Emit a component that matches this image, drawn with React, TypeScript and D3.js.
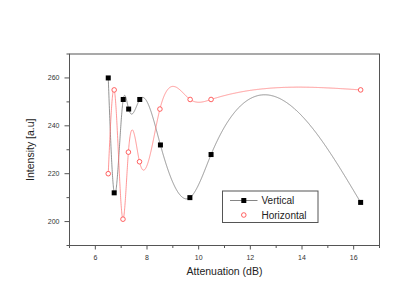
import { useEffect, useRef } from 'react'
import * as d3 from 'd3'

const attenuation = [6.5, 6.73, 7.08, 7.29, 7.72, 8.52, 9.66, 10.48, 16.27]
const verticalValues = [260, 212, 251, 247, 251, 232, 210, 228, 208]
const horizontalX = [6.5, 6.73, 7.07, 7.28, 7.71, 8.5, 9.67, 10.48, 16.27]
const horizontalValues = [220, 255, 201, 229, 225, 247, 251, 251, 255]
const xTicks = [6, 8, 10, 12, 14, 16]
const yTicks = [200, 220, 240, 260]

// natural cubic spline y(x), used only to draw the connecting line
function naturalSpline(xs: number[], ys: number[]) {
  const n = xs.length
  const h = d3.range(n - 1).map(i => xs[i + 1] - xs[i])
  const a = new Array(n).fill(0), b = new Array(n).fill(1), c = new Array(n).fill(0), r = new Array(n).fill(0)
  for (let i = 1; i < n - 1; i++) {
    a[i] = h[i - 1]
    b[i] = 2 * (h[i - 1] + h[i])
    c[i] = h[i]
    r[i] = 6 * ((ys[i + 1] - ys[i]) / h[i] - (ys[i] - ys[i - 1]) / h[i - 1])
  }
  // thomas algorithm
  const cp = new Array(n).fill(0), rp = new Array(n).fill(0)
  cp[0] = c[0] / b[0]; rp[0] = r[0] / b[0]
  for (let i = 1; i < n; i++) {
    const m = b[i] - a[i] * cp[i - 1]
    cp[i] = c[i] / m
    rp[i] = (r[i] - a[i] * rp[i - 1]) / m
  }
  const M = new Array(n).fill(0)
  M[n - 1] = rp[n - 1]
  for (let i = n - 2; i >= 0; i--) M[i] = rp[i] - cp[i] * M[i + 1]
  return (x: number) => {
    let i = d3.bisectRight(xs, x) - 1
    i = Math.max(0, Math.min(n - 2, i))
    const t1 = xs[i + 1] - x, t0 = x - xs[i], hi = h[i]
    return M[i] * t1 ** 3 / (6 * hi) + M[i + 1] * t0 ** 3 / (6 * hi)
      + (ys[i] / hi - M[i] * hi / 6) * t1 + (ys[i + 1] / hi - M[i + 1] * hi / 6) * t0
  }
}

export default function App() {
  const svgRef = useRef<SVGSVGElement>(null)

  useEffect(() => {
    if (!svgRef.current) return
    const width = 415, height = 294
    const margin = { top: 54, right: 35.5, bottom: 48.5, left: 69.5 }
    const svg = d3.select(svgRef.current)
    svg.selectAll('*').remove()

    const x = d3.scaleLinear().domain([5, 17]).range([margin.left, width - margin.right])
    const y = d3.scaleLinear().domain([190, 270]).range([height - margin.bottom, margin.top])
    const axisColor = '#555'
    const font = 'Liberation Sans, Arial, sans-serif'

    svg.append('clipPath').attr('id', 'plot-clip')
      .append('rect')
      .attr('x', margin.left).attr('y', margin.top)
      .attr('width', x(17) - x(5)).attr('height', y(190) - y(270))

    // frame
    svg.append('rect')
      .attr('x', x(5)).attr('y', y(270))
      .attr('width', x(17) - x(5)).attr('height', y(190) - y(270))
      .attr('fill', 'none').attr('stroke', axisColor).attr('stroke-width', 1)

    // x axis
    const xAxis = svg.append('g').attr('transform', `translate(0,${y(190)})`)
    d3.range(5, 17.01, 1).forEach(v => {
      const major = v % 2 === 0
      xAxis.append('line')
        .attr('x1', x(v)).attr('x2', x(v)).attr('y1', 0).attr('y2', major ? 4 : 2.5)
        .attr('stroke', axisColor).attr('stroke-width', 1)
    })
    xTicks.forEach(v => {
      xAxis.append('text')
        .attr('x', x(v)).attr('y', 14)
        .attr('text-anchor', 'middle').attr('font-size', 7).attr('font-family', font).attr('fill', '#333')
        .text(v)
    })

    // y axis
    const yAxis = svg.append('g').attr('transform', `translate(${x(5)},0)`)
    d3.range(190, 270.01, 10).forEach(v => {
      const major = v % 20 === 0 && v !== 190 && v !== 270
      yAxis.append('line')
        .attr('x1', major ? -5 : -3).attr('x2', 0).attr('y1', y(v)).attr('y2', y(v))
        .attr('stroke', axisColor).attr('stroke-width', 1)
    })
    yTicks.forEach(v => {
      yAxis.append('text')
        .attr('x', -10).attr('y', y(v) + 2.5)
        .attr('text-anchor', 'end').attr('font-size', 7).attr('font-family', font).attr('fill', '#333')
        .text(v)
    })

    svg.append('text')
      .attr('x', (x(5) + x(17)) / 2).attr('y', 275)
      .attr('text-anchor', 'middle').attr('font-size', 10.5).attr('font-family', font).attr('fill', '#222')
      .text('Attenuation (dB)')
    svg.append('text')
      .attr('transform', `translate(34,${(y(190) + y(270)) / 2}) rotate(-90)`)
      .attr('text-anchor', 'middle').attr('font-size', 10.5).attr('font-family', font).attr('fill', '#222')
      .text('Intensity [a.u]')

    // spline lines
    const plot = svg.append('g').attr('clip-path', 'url(#plot-clip)')
    const line = d3.line<[number, number]>().x(d => x(d[0])).y(d => y(d[1]))
    const drawSpline = (xs: number[], ys: number[], color: string) => {
      const f = naturalSpline(xs, ys)
      const pts = d3.range(xs[0], xs[xs.length - 1], 0.005).concat([xs[xs.length - 1]])
        .map(v => [v, f(v)] as [number, number])
      plot.append('path').attr('d', line(pts)).attr('fill', 'none')
        .attr('stroke', color).attr('stroke-width', 0.7)
    }
    drawSpline(attenuation, verticalValues, '#666')
    drawSpline(horizontalX, horizontalValues, '#ff6a6a')

    // markers
    attenuation.forEach((v, i) => {
      svg.append('rect')
        .attr('x', x(v) - 2.5).attr('y', y(verticalValues[i]) - 2.5)
        .attr('width', 5).attr('height', 5).attr('fill', '#000')
    })
    horizontalX.forEach((v, i) => {
      svg.append('circle')
        .attr('cx', x(v)).attr('cy', y(horizontalValues[i])).attr('r', 2.3)
        .attr('fill', '#fff').attr('stroke', '#ff3b3b').attr('stroke-width', 0.8)
    })

    // legend
    const lg = svg.append('g').attr('transform', 'translate(222.5,191)')
    lg.append('rect').attr('width', 95.5).attr('height', 31.5)
      .attr('fill', '#fff').attr('stroke', axisColor).attr('stroke-width', 1)
    lg.append('line').attr('x1', 7.5).attr('x2', 35).attr('y1', 9.5).attr('y2', 9.5)
      .attr('stroke', '#666').attr('stroke-width', 0.8)
    lg.append('rect').attr('x', 18.8).attr('y', 7).attr('width', 5).attr('height', 5).attr('fill', '#000')
    lg.append('circle').attr('cx', 21.3).attr('cy', 24).attr('r', 2.3)
      .attr('fill', '#fff').attr('stroke', '#ff3b3b').attr('stroke-width', 0.8)
    lg.append('text').attr('x', 39).attr('y', 13).attr('font-size', 10).attr('font-family', font)
      .attr('fill', '#222').text('Vertical')
    lg.append('text').attr('x', 39).attr('y', 27.5).attr('font-size', 10).attr('font-family', font)
      .attr('fill', '#222').text('Horizontal')
  }, [])

  return (
    <svg ref={svgRef} width={415} height={294}
      style={{ position: 'absolute', left: 0, top: 0, background: '#fff' }} />
  )
}
